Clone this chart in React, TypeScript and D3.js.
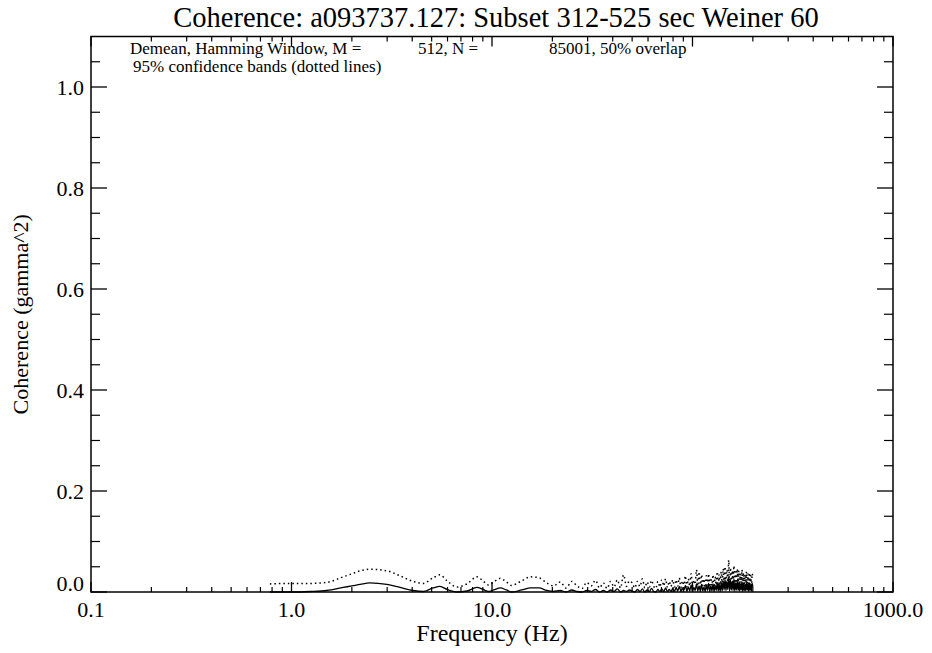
import React from "react";
import * as d3 from "d3";

const W = 932;
const H = 653;

// Low-frequency region (Hz) and values
const lowFreq = [0.78, 1.0, 1.24, 1.5, 1.81, 2.0, 2.2, 2.46, 2.99, 3.48, 4.04, 4.53, 5.08, 5.5, 5.97, 6.69, 7.5, 8.42, 9.02, 9.6, 10.2, 11.0, 11.8];
const lowCoh = [0.0, 0.0, 0.001, 0.003, 0.009, 0.012, 0.015, 0.018, 0.015, 0.009, 0.003, 0.001, 0.008, 0.011, 0.005, 0.0, 0.002, 0.009, 0.005, 0.001, 0.004, 0.008, 0.004];
const lowUpper = [0.016, 0.017, 0.017, 0.019, 0.030, 0.036, 0.042, 0.045, 0.042, 0.032, 0.021, 0.017, 0.028, 0.034, 0.022, 0.010, 0.016, 0.030, 0.022, 0.014, 0.020, 0.027, 0.020];

// Higher-frequency region: FFT bins 16..256 step 2 (fs = 400 Hz, M = 512)
const binWidth = 400 / 512;
const hiStartBin = 16;
const hiBinStep = 2;
const hiCoh = [
  0.000, 0.004, 0.008, 0.008, 0.003, 0.001,
  0.003, 0.000, 0.004, 0.001, 0.000, 0.003,
  0.001, 0.005, 0.000, 0.003, 0.000, 0.004, 0.001, 0.006, 0.000, 0.003, 0.001, 0.004,
  0.002, 0.000, 0.005, 0.001, 0.006, 0.000, 0.004, 0.001, 0.007, 0.001, 0.000, 0.005, 0.001, 0.006, 0.001, 0.008, 0.001, 0.005, 0.001, 0.007,
  0.001, 0.009, 0.002, 0.011, 0.001, 0.008, 0.003, 0.013, 0.001, 0.010, 0.002, 0.014, 0.001, 0.009, 0.003, 0.016, 0.002,
  0.012, 0.001, 0.015, 0.002, 0.010, 0.001, 0.014, 0.003, 0.017, 0.001, 0.012, 0.002, 0.016, 0.001, 0.013, 0.003, 0.018, 0.002, 0.015, 0.001,
  0.019, 0.002, 0.022, 0.004, 0.025, 0.003, 0.020, 0.005, 0.030, 0.002, 0.024, 0.004, 0.021, 0.003, 0.026, 0.002, 0.018, 0.004, 0.022, 0.003,
  0.019, 0.002, 0.016, 0.004, 0.020, 0.001, 0.017, 0.003, 0.015, 0.002, 0.019, 0.004, 0.016, 0.001, 0.018, 0.003, 0.014, 0.002, 0.017, 0.010,
];
const hiUpper = [
  0.013, 0.022, 0.030, 0.028, 0.018, 0.012,
  0.020, 0.008, 0.021, 0.012, 0.007, 0.019,
  0.012, 0.023, 0.008, 0.018, 0.007, 0.021, 0.010, 0.024, 0.008, 0.034, 0.011, 0.022,
  0.018, 0.008, 0.021, 0.011, 0.026, 0.008, 0.020, 0.010, 0.023, 0.011, 0.007, 0.021, 0.010, 0.024, 0.012, 0.026, 0.009, 0.021, 0.011, 0.024,
  0.010, 0.024, 0.012, 0.028, 0.009, 0.022, 0.014, 0.032, 0.010, 0.026, 0.012, 0.036, 0.011, 0.024, 0.015, 0.044, 0.012,
  0.040, 0.010, 0.034, 0.013, 0.026, 0.009, 0.032, 0.014, 0.036, 0.010, 0.028, 0.013, 0.034, 0.009, 0.030, 0.014, 0.040, 0.012, 0.034, 0.010,
  0.040, 0.014, 0.046, 0.018, 0.050, 0.015, 0.044, 0.020, 0.063, 0.014, 0.048, 0.018, 0.042, 0.016, 0.052, 0.013, 0.040, 0.018, 0.046, 0.015,
  0.042, 0.014, 0.036, 0.018, 0.044, 0.012, 0.038, 0.016, 0.034, 0.013, 0.040, 0.017, 0.036, 0.012, 0.038, 0.015, 0.032, 0.013, 0.036, 0.030,
];

const xMajorTicks = [0.1, 1, 10, 100, 1000];
const xTickLabels = ["0.1", "1.0", "10.0", "100.0", "1000.0"];
const yMajorTicks = [0, 0.2, 0.4, 0.6, 0.8, 1.0];
const yTickLabels = ["0.0", "0.2", "0.4", "0.6", "0.8", "1.0"];
const yMinorTicks = [0.05, 0.1, 0.15, 0.25, 0.3, 0.35, 0.45, 0.5, 0.55, 0.65, 0.7, 0.75, 0.85, 0.9, 0.95, 1.05];
const xMinorMultipliers = [2, 3, 4, 5, 6, 7, 8, 9];

const titleText = "Coherence: a093737.127: Subset 312-525 sec Weiner 60";
const note1a = "Demean, Hamming Window, M =";
const note1b = "512, N =";
const note1c = "85001, 50% overlap";
const note2 = "95% confidence bands (dotted lines)";
const xLabel = "Frequency (Hz)";
const yLabel = "Coherence (gamma^2)";

const FONT = "'Liberation Serif', 'Times New Roman', serif";

export default function App() {
  const left = 91, right = 893, top = 36.5, bottom = 592;
  const x = d3.scaleLog().domain([0.1, 1000]).range([left, right]);
  const y = d3.scaleLinear().domain([0, 1.1]).range([bottom, top]);

  const hiFreq = hiCoh.map((_, i) => (hiStartBin + i * hiBinStep) * binWidth);
  const cohPts = [
    ...lowFreq.map((f, i) => ({ f, v: lowCoh[i] })),
    ...hiFreq.map((f, i) => ({ f, v: hiCoh[i] })),
  ];
  const upPts = [
    ...lowFreq.map((f, i) => ({ f, v: lowUpper[i] })),
    ...hiFreq.map((f, i) => ({ f, v: hiUpper[i] })),
  ];
  const line = d3
    .line<{ f: number; v: number }>()
    .x((d) => x(d.f))
    .y((d) => y(d.v))
    .curve(d3.curveMonotoneX);

  const xMinor: number[] = [];
  for (let d = -1; d < 3; d++) {
    for (const m of xMinorMultipliers) xMinor.push(m * Math.pow(10, d));
  }

  return (
    <svg width={W} height={H} style={{ display: "block", position: "absolute", left: 0, top: 0 }} fontFamily={FONT}>
      <rect x={0} y={0} width={W} height={H} fill="#fff" />
      <text x={496} y={26.5} textAnchor="middle" fontSize={28.5}>{titleText}</text>

      {/* data */}
      <path d={line(upPts) || ""} fill="none" stroke="#000" strokeWidth={1.5} strokeDasharray="1.5 3" />
      <path d={line(cohPts) || ""} fill="none" stroke="#000" strokeWidth={1.3} />

      {/* frame */}
      <rect x={left} y={top} width={right - left} height={bottom - top} fill="none" stroke="#000" strokeWidth={1.5} />

      {/* x ticks */}
      {xMajorTicks.map((t) => (
        <g key={"xm" + t}>
          <line x1={x(t)} x2={x(t)} y1={bottom} y2={bottom - 10} stroke="#000" strokeWidth={1.3} />
          <line x1={x(t)} x2={x(t)} y1={top} y2={top + 10} stroke="#000" strokeWidth={1.3} />
        </g>
      ))}
      {xMinor.map((t) => (
        <g key={"xn" + t}>
          <line x1={x(t)} x2={x(t)} y1={bottom} y2={bottom - 5} stroke="#000" strokeWidth={1.2} />
          <line x1={x(t)} x2={x(t)} y1={top} y2={top + 5} stroke="#000" strokeWidth={1.2} />
        </g>
      ))}
      {xMajorTicks.map((t, i) => (
        <text key={"xl" + t} x={x(t)} y={617} textAnchor="middle" fontSize={22}>{xTickLabels[i]}</text>
      ))}

      {/* y ticks */}
      {yMajorTicks.map((t) => (
        <g key={"ym" + t}>
          <line x1={left} x2={left + 16} y1={y(t)} y2={y(t)} stroke="#000" strokeWidth={1.3} />
          <line x1={right} x2={right - 16} y1={y(t)} y2={y(t)} stroke="#000" strokeWidth={1.3} />
        </g>
      ))}
      {yMinorTicks.map((t) => (
        <g key={"yn" + t}>
          <line x1={left} x2={left + 9} y1={y(t)} y2={y(t)} stroke="#000" strokeWidth={1.2} />
          <line x1={right} x2={right - 9} y1={y(t)} y2={y(t)} stroke="#000" strokeWidth={1.2} />
        </g>
      ))}
      {yMajorTicks.map((t, i) => (
        <text key={"yl" + t} x={84} y={y(t) + (i === 0 ? -1 : 7.5)} textAnchor="end" fontSize={22}>{yTickLabels[i]}</text>
      ))}

      {/* annotations */}
      <text x={130} y={54} fontSize={17}>{note1a}</text>
      <text x={418} y={54} fontSize={17}>{note1b}</text>
      <text x={549} y={54} fontSize={17}>{note1c}</text>
      <text x={133} y={72} fontSize={17}>{note2}</text>

      {/* axis labels */}
      <text x={(left + right) / 2} y={641} textAnchor="middle" fontSize={24}>{xLabel}</text>
      <text transform={`translate(28, ${(top + bottom) / 2}) rotate(-90)`} textAnchor="middle" fontSize={22}>{yLabel}</text>
    </svg>
  );
}
